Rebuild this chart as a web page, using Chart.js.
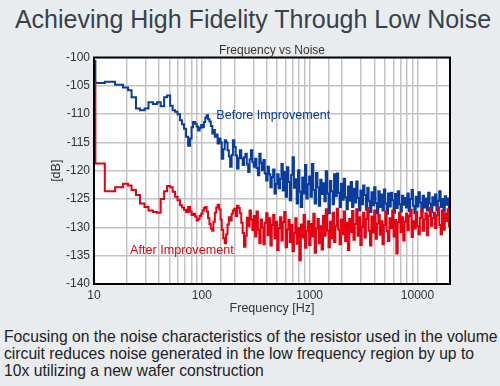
<!DOCTYPE html>
<html>
<head>
<meta charset="utf-8">
<script src="https://cdn.jsdelivr.net/npm/chart.js@4.4.0/dist/chart.umd.min.js"></script>
<style>
  html, body { margin: 0; padding: 0; }
  body {
    width: 500px; height: 386px; position: relative; overflow: hidden;
    background: #e9ecef; font-family: "Liberation Sans", Arial, sans-serif;
  }
  #title {
    position: absolute; left: 3px; top: 7px; width: 500px; text-align: center;
    font-size: 25px; line-height: 25px; color: #36424a; white-space: nowrap;
  }
  #subtitle {
    position: absolute; left: 94px; top: 43px; width: 356px; text-align: center;
    font-size: 12px; line-height: 14px; color: #333; z-index: 2;
  }
  #wrap { position: absolute; left: 0; top: 40px; width: 500px; height: 280px; }
  #caption {
    position: absolute; left: 4px; top: 328px; font-size: 15.7px; line-height: 17px;
    color: #222; white-space: nowrap;
  }
</style>
</head>
<body>
<div id="title">Achieving High Fidelity Through Low Noise</div>
<div id="subtitle">Frequency vs Noise</div>
<div id="wrap"><canvas id="noiseChart" width="500" height="280"></canvas></div>
<div id="caption">Focusing on the noise characteristics of the resistor used in the volume<br>circuit reduces noise generated in the low frequency region by up to<br>10x utilizing a new wafer construction</div>
<script>
// Frequency vs Noise - before / after improvement

const seriesNames = ['Before Improvement', 'After Improvement'];
const xTickLabels = [10, 100, 1000, 10000];

// frequency of each level (Hz); the level holds until the next frequency
const freqHz = [
  8, 10.3, 12.6, 15.7, 18.6, 20.7, 22.3, 24.5, 26.7, 29.4,
  32.0, 35.3, 38.4, 41.5, 44.7, 47.6, 50.8, 53.6, 56.5, 59.5,
  62.8, 65.5, 68.4, 71.4, 74.6, 77.8, 80.3, 82.9, 86.6, 89.5,
  92.4, 95.4, 98.5, 101.5, 104.5, 107.6, 110.8, 114.2, 117.6, 121,
  125, 128, 132, 136, 140, 145, 149, 153, 158, 163,
  168, 173, 178, 183, 189, 194, 200, 206, 212, 219,
  225, 232, 239, 246, 254, 261, 269, 277, 285, 294,
  303, 312, 321, 331, 341, 351, 361, 372, 383, 395,
  407, 419, 432, 445, 458, 472, 486, 500, 515, 531,
  547, 563, 580, 598, 616, 634, 653, 673, 693, 714,
  735, 757, 780, 803, 827, 852, 878, 904, 931, 959,
  988, 1018, 1048, 1080, 1112, 1145, 1180, 1215, 1252, 1289,
  1328, 1368, 1409, 1451, 1494, 1539, 1585, 1633, 1682, 1732,
  1784, 1838, 1893, 1950, 2008, 2068, 2130, 2194, 2260, 2328,
  2398, 2470, 2544, 2620, 2699, 2780, 2863, 2949, 3037, 3128,
  3222, 3319, 3418, 3521, 3626, 3735, 3847, 3963, 4081, 4204,
  4330, 4460, 4594, 4731, 4873, 5019, 5170, 5325, 5485, 5649,
  5819, 5993, 6173, 6358, 6549, 6746, 6948, 7157, 7371, 7593,
  7820, 8055, 8297, 8546, 8802, 9066, 9338, 9618, 9907, 10204,
  10510, 10826, 11150, 11485, 11829, 12184, 12550, 12926, 13314, 13713,
  14125, 14548, 14985, 15434, 15897, 16374, 16865, 17371, 17892, 18429,
  18982, 19552, 20138
];

// noise level before improvement (dB)
const beforeDb = [
  -100.6, -104.5, -104.3, -104.8, -105.3, -105.8, -107.0, -109.0, -109.3, -109.0,
  -107.9, -108.2, -107.9, -108.6, -107.0, -106.7, -108.5, -109.3, -109.6, -110.0,
  -111.1, -111.8, -112.6, -114.0, -115.6, -114.3, -112.3, -111.4, -111.7, -112.2,
  -112.9, -112.4, -111.9, -112.3, -111.4, -110.6, -110.2, -110.9, -111.3, -112.1,
  -113.4, -112.8, -114.0, -113.6, -115.2, -114.3, -115.0, -117.9, -116.2, -114.6,
  -115.0, -116.4, -117.5, -119.3, -117.2, -114.6, -115.8, -117.3, -119.6, -117.8,
  -116.4, -117.8, -119.0, -117.6, -117.0, -118.9, -120.2, -118.0, -116.4, -118.5,
  -119.3, -117.9, -119.5, -120.8, -117.0, -118.6, -119.9, -118.1, -120.5, -121.7,
  -119.3, -120.6, -122.9, -121.1, -119.8, -124.0, -122.3, -120.6, -123.1, -121.4,
  -118.8, -123.5, -120.2, -124.6, -119.4, -122.0, -125.2, -120.7, -117.6, -123.0,
  -121.5, -125.8, -119.9, -123.7, -126.4, -121.2, -124.0, -119.0, -124.9, -122.4,
  -121.0, -124.6, -118.8, -123.4, -125.8, -120.4, -122.9, -126.2, -121.6, -124.1,
  -122.2, -125.4, -120.1, -124.0, -127.5, -121.8, -123.6, -125.9, -120.6, -124.5,
  -120.5, -123.9, -126.4, -122.3, -125.1, -121.4, -124.7, -126.8, -122.8, -125.3,
  -122.0, -126.4, -123.2, -125.6, -121.9, -124.8, -127.0, -123.5, -125.9, -122.6,
  -124.3, -126.9, -123.0, -125.4, -127.3, -123.8, -126.1, -122.9, -125.7, -127.5,
  -123.6, -126.4, -124.2, -127.0, -123.3, -125.8, -127.6, -124.0, -126.3, -123.9,
  -125.2, -127.4, -124.1, -126.6, -123.6, -125.9, -127.2, -124.4, -126.0, -124.8,
  -126.5, -124.0, -127.1, -125.0, -123.4, -126.2, -127.5, -124.6, -126.3, -123.8,
  -125.6, -127.2, -124.4, -126.5, -124.9, -127.0, -123.9, -125.8, -127.3, -124.7,
  -126.1, -124.2, -127.0, -125.3, -123.6, -126.4, -125.0, -127.2, -124.5, -126.0,
  -124.9, -126.8, -125.5
];

// noise level after improvement (dB)
const afterDb = [
  -104.3, -118.7, -123.6, -122.9, -122.3, -122.6, -123.4, -124.3, -125.8, -126.4,
  -127.0, -127.3, -127.4, -125.0, -123.6, -122.7, -122.9, -123.7, -124.6, -125.2,
  -126.1, -126.5, -126.9, -127.3, -126.4, -127.2, -127.8, -127.6, -128.1, -128.8,
  -128.5, -128.0, -127.6, -127.0, -126.6, -126.4, -127.2, -128.4, -129.4, -130.2,
  -130.6, -129.0, -127.4, -126.5, -126.0, -126.8, -128.6, -130.4, -131.9, -132.8,
  -131.2, -129.5, -128.2, -128.8, -127.6, -127.0, -126.7, -128.0, -126.2, -126.6,
  -127.5, -129.2, -131.0, -133.4, -131.5, -128.3, -129.8, -127.0, -128.6, -130.5,
  -128.0, -131.6, -127.2, -130.4, -132.8, -128.6, -130.0, -133.0, -129.2, -127.5,
  -131.4, -128.4, -133.2, -129.6, -127.8, -131.9, -129.0, -134.0, -130.2, -128.2,
  -132.3, -129.1, -127.3, -133.5, -130.4, -128.7, -132.6, -129.6, -134.2, -131.0,
  -128.4, -132.9, -130.1, -135.8, -129.5, -131.8, -127.8, -133.6, -130.6, -128.9,
  -133.1, -129.4, -131.6, -127.6, -134.5, -130.2, -128.5, -132.8, -129.8, -133.9,
  -128.0, -131.5, -126.8, -130.6, -133.5, -129.0, -131.9, -127.4, -132.6, -129.7,
  -126.7, -130.4, -133.0, -128.6, -131.2, -127.2, -132.4, -129.2, -134.0, -128.5,
  -130.8, -127.1, -132.2, -129.4, -126.8, -131.5, -128.2, -133.1, -129.9, -127.4,
  -131.8, -128.5, -126.6, -130.6, -133.2, -128.1, -130.9, -127.0, -132.0, -129.3,
  -127.8, -131.3, -128.9, -133.0, -129.6, -127.2, -130.7, -132.4, -128.4, -130.1,
  -127.0, -131.6, -128.7, -134.6, -129.1, -127.4, -130.8, -128.2, -132.3, -129.0,
  -127.6, -130.5, -128.0, -126.9, -131.7, -128.9, -130.2, -127.3, -129.8, -131.2,
  -128.3, -126.9, -130.6, -128.6, -127.5, -131.4, -128.0, -126.6, -129.7, -128.4,
  -127.4, -130.1, -127.9, -126.5, -129.6, -131.2, -127.0, -130.4, -127.6, -128.9,
  -126.8, -129.8, -127.4
];

// in-plot series labels: where they sit (Hz, dB)
const noteFreqs = [136, 21.6];
const noteLevels = [-110.3, -134.1];

const BLUE = '#0a3d9b';
const RED = '#e60012';
const GRID = '#c4c4c4';
const TEXT = '#333';

Chart.defaults.font.family = '"Liberation Sans", Arial, sans-serif';

function toPoints(vals){ return freqHz.map(function(f, i){ return { x: f, y: vals[i] }; }); }

function isLabelTick(v){
  return xTickLabels.some(function(t){ return Math.abs(t - v) < t * 1e-6; });
}

// white plot area, black frame and the two series labels
const plotFrame = {
  id: 'plotFrame',
  beforeDraw(chart){
    const a = chart.chartArea, ctx = chart.ctx;
    ctx.save();
    ctx.fillStyle = '#ffffff';
    ctx.fillRect(a.left, a.top, a.right - a.left, a.bottom - a.top);
    ctx.restore();
  },
  afterDatasetsDraw(chart){
    const a = chart.chartArea, ctx = chart.ctx;
    const sx = chart.scales.x, sy = chart.scales.y;
    ctx.save();
    ctx.font = '12.6px "Liberation Sans", Arial, sans-serif';
    ctx.textAlign = 'left';
    ctx.textBaseline = 'middle';
    const colors = [BLUE, RED];
    for (let i = 0; i < seriesNames.length; i++) {
      ctx.fillStyle = colors[i];
      ctx.fillText(seriesNames[i], sx.getPixelForValue(noteFreqs[i]), sy.getPixelForValue(noteLevels[i]));
    }
    ctx.strokeStyle = '#000';
    ctx.lineWidth = 2;
    ctx.strokeRect(a.left, a.top, a.right - a.left, a.bottom - a.top);
    ctx.restore();
  }
};

new Chart(document.getElementById('noiseChart'), {
  type: 'line',
  data: {
    datasets: [
      { label: seriesNames[0], data: toPoints(beforeDb), borderColor: BLUE, borderWidth: 2,
        pointRadius: 0, stepped: 'before', order: 2 },
      { label: seriesNames[1], data: toPoints(afterDb), borderColor: RED, borderWidth: 2,
        pointRadius: 0, stepped: 'before', order: 1 }
    ]
  },
  options: {
    responsive: false,
    animation: false,
    devicePixelRatio: 1,
    events: [],
    layout: { padding: { left: 40, right: 50, top: 17.5, bottom: 0 } },
    plugins: { legend: { display: false }, tooltip: { enabled: false } },
    scales: {
      x: {
        type: 'logarithmic', min: 10, max: 20000,
        grid: { color: GRID, lineWidth: 1.5, drawTicks: false },
        border: { display: false },
        ticks: {
          autoSkip: false, maxRotation: 0, padding: 4, color: TEXT, font: { size: 12 },
          callback: function(v){ return isLabelTick(v) ? String(Math.round(v)) : ''; }
        },
        title: { display: true, text: 'Frequency [Hz]', color: TEXT, font: { size: 12.5 }, padding: { top: 0, bottom: 4 } },
        afterFit: function(s){ s.height = 36; }
      },
      y: {
        min: -140, max: -100,
        grid: { color: GRID, lineWidth: 1.5, drawTicks: false },
        border: { display: false },
        ticks: { stepSize: 5, padding: 4, color: TEXT, font: { size: 12 } },
        title: { display: true, text: '[dB]', color: TEXT, font: { size: 12.5 }, padding: { top: 9, bottom: 0 } },
        afterFit: function(s){ s.width = 54; }
      }
    }
  },
  plugins: [plotFrame]
});
</script>
</body>
</html>
